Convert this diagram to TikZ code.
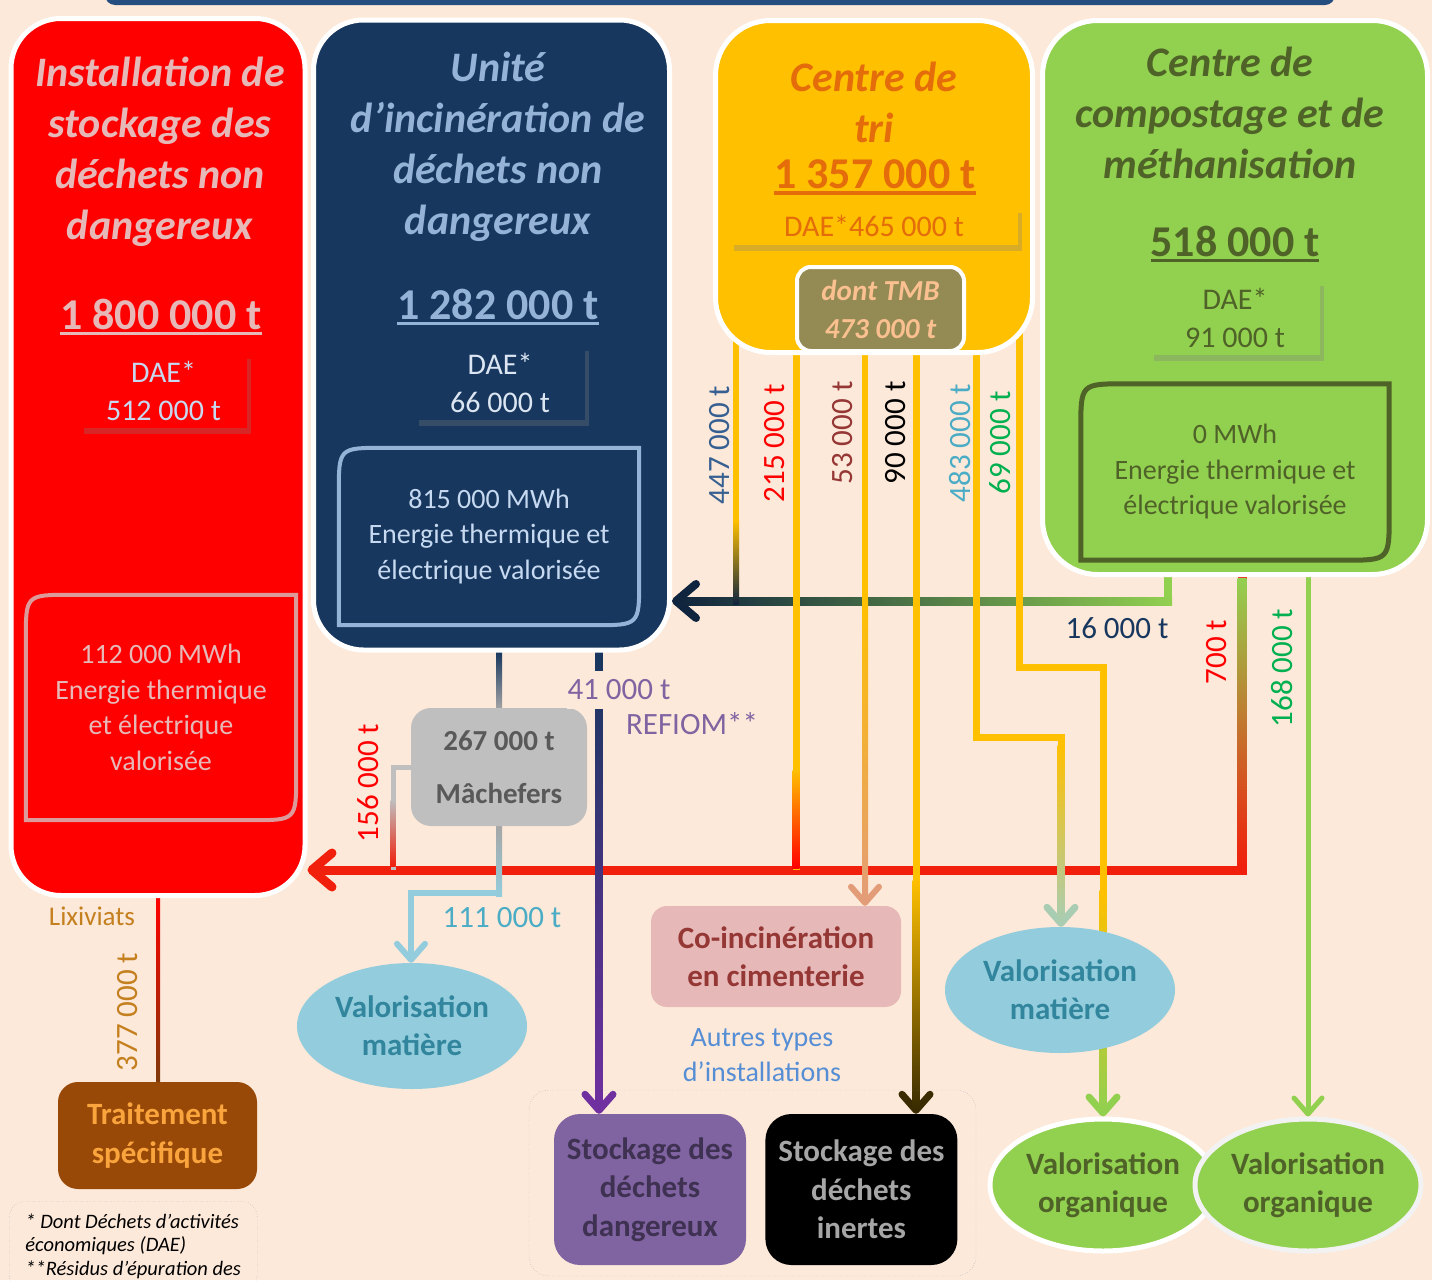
\documentclass[tikz,border=0pt]{standalone}
\usepackage{fontspec}
\setmainfont{Carlito}
\usetikzlibrary{positioning,shapes.geometric,arrows.meta,calc,backgrounds,shadows}

\definecolor{peach}{HTML}{FDE9D9}
\definecolor{barblue}{HTML}{254E80}
\definecolor{isdred}{HTML}{FF0000}
\definecolor{uinavy}{HTML}{17375E}
\definecolor{triyel}{HTML}{FFC000}
\definecolor{compgreen}{HTML}{92D050}
\definecolor{pinktxt}{HTML}{E6B9B8}
\definecolor{skytxt}{HTML}{95B3D7}
\definecolor{paleblue}{HTML}{C6D9F1}
\definecolor{frost}{HTML}{DCE6F2}
\definecolor{orangetxt}{HTML}{E46C0A}
\definecolor{olive}{HTML}{4F6228}
\definecolor{tmbfill}{HTML}{948A54}
\definecolor{tmbtxt}{HTML}{FAC090}
\definecolor{greyfill}{HTML}{BFBFBF}
\definecolor{greytxt}{HTML}{595959}
\definecolor{rosefill}{HTML}{E6B9B8}
\definecolor{bordeaux}{HTML}{953735}
\definecolor{aquafill}{HTML}{93CDDD}
\definecolor{aquatxt}{HTML}{31859C}
\definecolor{aqualbl}{HTML}{4BACC6}
\definecolor{lilac}{HTML}{8064A2}
\definecolor{lilactxt}{HTML}{3F3151}
\definecolor{inerttxt}{HTML}{A6A6A6}
\definecolor{brownfill}{HTML}{984807}
\definecolor{ambertxt}{HTML}{F9A43C}
\definecolor{lixcol}{HTML}{C47F1E}
\definecolor{steel}{HTML}{376092}
\definecolor{leaf}{HTML}{00B050}
\definecolor{flowred}{HTML}{F0200C}
\definecolor{deepnavy}{HTML}{0F243E}
\definecolor{violetflow}{HTML}{7030A0}
\definecolor{salmonflow}{HTML}{E39C78}
\definecolor{darkbrown}{HTML}{3A2C00}
\definecolor{mint}{HTML}{A9CDB2}
\definecolor{autrestxt}{HTML}{558ED5}
\definecolor{rustbrown}{HTML}{7F3A0A}
\definecolor{dotgrey}{HTML}{8497B0}
\definecolor{pinkline}{HTML}{DC9A9A}

\newcommand{\undl}[1]{\setbox0=\hbox{#1}\rlap{\rule[-0.14em]{\wd0}{0.07em}}\box0}
\newcommand{\leaf}[2]{\draw[#2] (#1.north east) -- ([xshift=45pt]#1.north west) .. controls (#1.north west) .. ([yshift=-45pt]#1.north west) -- (#1.south west) -- ([xshift=-45pt]#1.south east) .. controls (#1.south east) .. ([yshift=45pt]#1.south east) -- cycle;}
\newcommand{\vfade}[5]{\shade[top color=#3, bottom color=#4] ($(#1)+(-#5/2,0)$) rectangle ($(#2)+(#5/2,0)$);}
\newcommand{\hfade}[5]{\shade[left color=#3, right color=#4] ($(#1)+(0,-#5/2)$) rectangle ($(#2)+(0,#5/2)$);}

\begin{document}
\begin{tikzpicture}[x=1pt, y=-1pt,
  bigbox/.style={draw=white, line width=5pt, rounded corners=50pt},
  ttl/.style={align=center, font=\fontsize{42}{51}\selectfont\bfseries\itshape},
  qty/.style={font=\fontsize{44}{50}\selectfont\bfseries},
  dae/.style={align=center, inner sep=0pt, font=\fontsize{30}{38}\selectfont, drop shadow={opacity=0.3, shadow xshift=4pt, shadow yshift=-6pt}},
  enrg/.style={align=center, font=\fontsize{28}{35.5}\selectfont},
  lbl/.style={font=\fontsize{31}{36}\selectfont, inner sep=1pt},
  vlbl/.style={lbl, rotate=90},
  flat/.style={rounded corners=16pt, align=center, font=\fontsize{31}{38.5}\selectfont\bfseries},
  oval/.style={ellipse, minimum width=230pt, minimum height=126pt, inner sep=0pt, align=center, font=\fontsize{31}{38}\selectfont\bfseries},
  flow/.style={line width=7pt},
  barb/.style={-{Straight Barb[length=16pt, width=28pt, round, color=#1]}},
  bigbarb/.style={-{Straight Barb[length=20pt, width=34pt, round, color=#1]}}]
\useasboundingbox (0,0) rectangle (1432,1280);
\fill[barblue, rounded corners=10pt] (105,-30) rectangle (1335,5);

% installations
\node[bigbox, fill=isdred, minimum width=294, minimum height=877] (isdnd) at (158,457) {};
\node[bigbox, fill=uinavy, minimum width=356, minimum height=630] (uidnd) at (491.5,335) {};
\node[bigbox, fill=triyel, minimum width=317, minimum height=332, rounded corners=55pt] (tri) at (874,186.5) {};
\node[bigbox, fill=compgreen, minimum width=385, minimum height=554, rounded corners=55pt] (compost) at (1235,297.5) {};

\node[ttl, text=pinktxt] (isdndT) at (160,151.5) {Installation de\\stockage des\\déchets non\\dangereux};
\node[qty, text=pinktxt] (isdndQ) at (161,317) {\undl{1 800 000 t}};
\node[dae, fill=isdred, text=paleblue, minimum width=167, minimum height=75] (isdndD) at (163.5,390.5) {DAE*\\512 000 t};
\node[enrg, text=pinktxt, minimum width=270, minimum height=225] (isdndE) at (161,707.5) {112 000 MWh\\Energie thermique\\et électrique\\valorisée};
\leaf{isdndE}{draw=pinkline, line width=4pt}

\node[ttl, text=skytxt] (uidndT) at (498,146.5) {Unité\\d’incinération de\\déchets non\\dangereux};
\node[qty, text=skytxt] (uidndQ) at (498,307) {\undl{1 282 000 t}};
\node[dae, fill=uinavy, text=frost, minimum width=170, minimum height=75] (uidndD) at (500,382.5) {DAE*\\66 000 t};
\node[enrg, text=paleblue, minimum width=300, minimum height=177] (uidndE) at (489,536.5) {815 000 MWh\\Energie thermique et\\électrique valorisée};
\leaf{uidndE}{draw=skytxt, line width=4pt}

\node[ttl, text=orangetxt] (triT) at (874,102.5) {Centre de\\tri};
\node[qty, text=orangetxt] (triQ) at (875,177) {\undl{1 357 000 t}};
\node[dae, fill=triyel, text=orangetxt, minimum width=288, minimum height=38] (triD) at (874,226) {DAE*465 000 t};
\node[draw=white, line width=4pt, fill=tmbfill, rounded corners=14pt, minimum width=167, minimum height=84, align=center, text=tmbtxt, font=\fontsize{29}{38}\selectfont\bfseries\itshape] (tmb) at (880.5,309) {dont TMB\\473 000 t};

\node[ttl, text=olive] (compostT) at (1230,113) {Centre de\\compostage et de\\méthanisation};
\node[qty, text=olive] (compostQ) at (1235,244) {\undl{518 000 t}};
\node[dae, fill=compgreen, text=olive, minimum width=170, minimum height=75] (compostD) at (1235,317.5) {DAE*\\91 000 t};
\node[enrg, text=olive, minimum width=308, minimum height=176] (compostE) at (1235,472) {0 MWh\\Energie thermique et\\électrique valorisée};
\leaf{compostE}{draw=olive, line width=5pt}

% destinations
\node[flat, fill=greyfill, text=greytxt, minimum width=176, minimum height=118, rounded corners=20pt, font=\fontsize{29}{53}\selectfont\bfseries] (mach) at (499,767) {267 000 t\\Mâchefers};
\node[oval, fill=aquafill, text=aquatxt] (valmatA) at (412,1026) {Valorisation\\matière};
\node[flat, fill=rosefill, text=bordeaux, minimum width=250, minimum height=101] (coinc) at (776,956.5) {Co-incinération\\en cimenterie};
\node[text=autrestxt, align=center, font=\fontsize{28}{35}\selectfont] (autres) at (762,1055) {Autres types\\d’installations};
\node[draw=dotgrey, dotted, rounded corners=20pt, minimum width=447, minimum height=186] (grp) at (752.5,1183) {};
\node[flat, fill=lilac, text=lilactxt, minimum width=192, minimum height=151, rounded corners=26pt] (sdd) at (650,1189.5) {Stockage des\\déchets\\dangereux};
\node[flat, fill=black, text=inerttxt, minimum width=192, minimum height=151, rounded corners=26pt] (sdi) [right=19pt of sdd] {Stockage des\\déchets\\inertes};
\node[oval, fill=aquafill, text=aquatxt] (valmatB) at (1060,990) {Valorisation\\matière};
\node[oval, fill=compgreen, text=olive, draw=white, line width=5pt, minimum width=226, minimum height=132] (valorgA) at (1103,1185) {Valorisation\\organique};
\node[oval, fill=compgreen, text=olive, draw=black!5, line width=5pt, minimum width=226, minimum height=132] (valorgB) at (1308,1185) {Valorisation\\organique};
\node[flat, fill=brownfill, text=ambertxt, minimum width=199, minimum height=107, rounded corners=20pt] (trait) at (157.5,1135.5) {Traitement\\spécifique};
\node[draw=dotgrey, dotted, rounded corners=16pt, anchor=north west, minimum width=248, minimum height=90, inner xsep=6pt, inner ysep=4pt, align=left, font=\fontsize{20.5}{23.5}\selectfont\itshape] (note) at (9,1201) {* Dont Déchets d’activités\\économiques (DAE)\\**Résidus d’épuration des};

\begin{pgfonlayer}{background}
\fill[peach] (0,0) rectangle (1432,1280);
\coordinate (jnavy) at (1168,601);
\coordinate (jred) at (1242,870);
\coordinate (x447) at (736,0);
\coordinate (x215) at (796,0);
\coordinate (x53) at (865,0);
\coordinate (x90) at (916,0);
\coordinate (j483) at (976,737);
\coordinate (k483) at (1061,737);
\coordinate (j69) at (1019,667);
\coordinate (k69) at (1103,667);
\coordinate (x168) at (1308,0);
\coordinate (x41) at (599,0);
\coordinate (j156) at (393,767);
\coordinate (j111) at (499,893);
\coordinate (k111) at (411,893);

% flows back to the incinerator and the landfill
\draw[line width=8pt, compgreen, bigbarb=deepnavy] (compost.center -| jnavy) -- (jnavy) -- (uidnd.east |- jnavy);
\hfade{676,601}{1172,601}{deepnavy}{compgreen}{8}
\draw[line width=9pt, flowred, bigbarb=flowred] (compost.center -| jred) -- (jred) -- (isdnd.east |- jred);
\vfade{1242,578}{1242,866}{compgreen}{flowred}{9}

% out of the incinerator
\draw[line width=6pt, uinavy] (uidnd.center -| mach.center) -- (mach);
\vfade{499,652}{499,710}{uinavy}{inerttxt}{6}
\draw[line width=5pt, greyfill] (mach) -- (j156) -- (j156 |- jred);
\vfade{393,800}{393,866}{greyfill}{flowred}{5}
\draw[line width=6pt, aquafill, barb=aquafill] (mach) -- (j111) -- (k111) -- (k111 |- valmatA.north);
\vfade{499,826}{499,896}{inerttxt}{aquafill}{6}
\draw[flow, uinavy, barb=violetflow] (uidnd.center -| x41) -- (sdd.north -| x41);
\vfade{599,650}{599,1108}{uinavy}{violetflow}{7}
\draw[line width=4pt, isdred] (isdnd.center) -- (isdnd.center |- trait.center);
\vfade{158,897}{158,1082}{isdred}{rustbrown}{4}

% out of the sorting centre
\draw[line width=6pt, triyel] (tri.center -| x447) -- (x447 |- jnavy);
\vfade{736,520}{736,604}{triyel}{deepnavy}{6}
\draw[flow, triyel] (tri.center -| x215) -- (x215 |- jred);
\vfade{796,770}{796,868}{triyel}{isdred}{7}
\draw[line width=6pt, triyel, barb=salmonflow] (tri.center -| x53) -- (coinc.north -| x53);
\vfade{865,600}{865,902}{triyel}{salmonflow}{6}
\draw[flow, triyel, barb=darkbrown] (tri.center -| x90) -- (sdi.north -| x90);
\vfade{916,880}{916,1108}{triyel}{darkbrown}{7}
\draw[flow, triyel, barb=mint] (tri.center -| j483) -- (j483) -- (k483) -- (k483 |- valmatB.north);
\vfade{1061,745}{1061,922}{triyel}{mint}{7}
\draw[flow, triyel, barb=compgreen] (tri.center -| j69) -- (j69) -- (k69) -- (k69 |- valorgA.north);
\vfade{1103,890}{1103,1112}{triyel}{compgreen}{7}

% out of the composting centre
\draw[line width=5pt, compgreen, barb=compgreen] (compost.center -| x168) -- (valorgB.north -| x168);
\end{pgfonlayer}

% tonnages
\node[vlbl, text=steel] (l447) at (720,445) {447 000 t};
\node[vlbl, text=isdred] (l215) at (775,443) {215 000 t};
\node[vlbl, text=bordeaux] (l53) at (843,433) {53 000 t};
\node[vlbl, text=black] (l90) at (896,433) {90 000 t};
\node[vlbl, text=aqualbl] (l483) at (960,443) {483 000 t};
\node[vlbl, text=leaf] (l69) at (1000,443) {69 000 t};
\node[lbl, text=uinavy] (l16) at (1117,628) {16 000 t};
\node[vlbl, text=isdred] (l700) at (1217,652) {700 t};
\node[vlbl, text=leaf] (l168) at (1282,668) {168 000 t};
\node[vlbl, text=isdred] (l156) at (368,783) {156 000 t};
\node[lbl, text=aqualbl] (l111) at (502,918) {111 000 t};
\node[lbl, text=lilac, fill=peach, inner ysep=9pt] (l41) at (619,690) {41 000 t};
\node[lbl, text=lilac] (refiom) at (692,724) {REFIOM**};
\node[lbl, text=lixcol, font=\fontsize{27}{30}\selectfont] (lix) at (92,916) {Lixiviats};
\node[vlbl, text=lixcol] (l377) at (128,1012) {377 000 t};
\end{tikzpicture}
\end{document}
